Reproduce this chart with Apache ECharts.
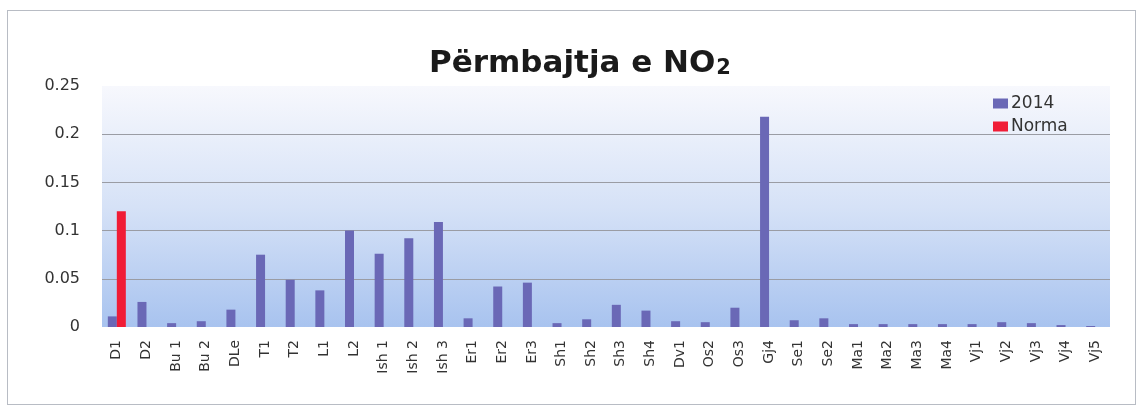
<!DOCTYPE html>
<html>
<head>
<meta charset="utf-8">
<script src="https://cdn.jsdelivr.net/npm/echarts@6/dist/echarts.min.js"></script>
<style>
  html, body { margin: 0; padding: 0; background: #fff; }
  #wrap { position: relative; width: 1139px; height: 409px; }
  #frame { position: absolute; left: 7px; top: 10px; width: 1129px; height: 395px; border: 1px solid #b8bcc4; box-sizing: border-box; }
  #chart { position: absolute; left: 0; top: 0; width: 1139px; height: 409px; }
</style>
</head>
<body>
<div id="wrap">
  <div id="frame"></div>
  <div id="chart"></div>
</div>
<script>
// NO2 content per station, 2014 vs norm
const categories = ['D1', 'D2', 'Bu 1', 'Bu 2', 'DLe', 'T1', 'T2', 'L1', 'L2', 'Ish 1', 'Ish 2', 'Ish 3',
  'Er1', 'Er2', 'Er3', 'Sh1', 'Sh2', 'Sh3', 'Sh4', 'Dv1', 'Os2', 'Os3', 'Gj4', 'Se1', 'Se2',
  'Ma1', 'Ma2', 'Ma3', 'Ma4', 'Vj1', 'Vj2', 'Vj3', 'Vj4', 'Vj5'];
const values2014 = [0.011, 0.026, 0.004, 0.006, 0.018, 0.075, 0.049, 0.038, 0.1, 0.076, 0.092, 0.109,
  0.009, 0.042, 0.046, 0.004, 0.008, 0.023, 0.017, 0.006, 0.005, 0.02, 0.218, 0.007, 0.009,
  0.003, 0.003, 0.003, 0.003, 0.003, 0.005, 0.004, 0.002, 0.001];
const valuesNorma = [0.12, null, null, null, null, null, null, null, null, null, null, null,
  null, null, null, null, null, null, null, null, null, null, null, null, null,
  null, null, null, null, null, null, null, null, null];

const chart = echarts.init(document.getElementById('chart'), null, { renderer: 'canvas' });
const noGrid = 'rgba(0,0,0,0)';
const font = 'DejaVu Sans';
chart.setOption({
  animation: false,
  title: {
    text: '{a|Përmbajtja e NO}{s|2}',
    left: 424,
    top: 43,
    textStyle: {
      rich: {
        a: { fontFamily: font, fontWeight: 'bold', fontSize: 31, color: '#1a1a1a' },
        s: { fontFamily: font, fontWeight: 'bold', fontSize: 21, color: '#1a1a1a', verticalAlign: 'bottom', padding: [7, 0, 0, 1] },
      },
    },
  },
  legend: {
    orient: 'vertical',
    left: 988,
    top: 90,
    icon: 'rect',
    itemWidth: 15,
    itemHeight: 10,
    itemGap: 6,
    textStyle: { fontFamily: font, fontSize: 17, color: '#333', padding: [0, 0, 0, -2] },
  },
  grid: {
    left: 102, right: 29, top: 86, bottom: 82,
    show: true,
    borderWidth: 0,
    backgroundColor: new echarts.graphic.LinearGradient(0, 0, 0, 1, [
      { offset: 0, color: '#f7f8fd' },
      { offset: 0.5, color: '#d6e2f7' },
      { offset: 1, color: '#a8c3ef' },
    ]),
  },
  xAxis: {
    type: 'category',
    data: categories,
    axisLine: { show: false },
    axisTick: { show: false },
    axisLabel: { rotate: 90, interval: 0, margin: 13, fontFamily: font, fontSize: 14, color: '#333' },
  },
  yAxis: {
    type: 'value',
    min: 0, max: 0.25, interval: 0.05,
    axisLine: { show: false },
    axisTick: { show: false },
    axisLabel: { margin: 22, fontFamily: font, fontSize: 16, color: '#333' },
    splitLine: { lineStyle: { color: [noGrid, '#9a9ca4', '#9a9ca4', '#9a9ca4', '#9a9ca4', noGrid], width: 1 } },
  },
  series: [
    { name: '2014', type: 'bar', data: values2014, barWidth: 9, barGap: '0%', itemStyle: { color: '#6a68b6' } },
    { name: 'Norma', type: 'bar', data: valuesNorma, barWidth: 9, barGap: '0%', itemStyle: { color: '#f01c36' } },
  ],
});
</script>
</body>
</html>
